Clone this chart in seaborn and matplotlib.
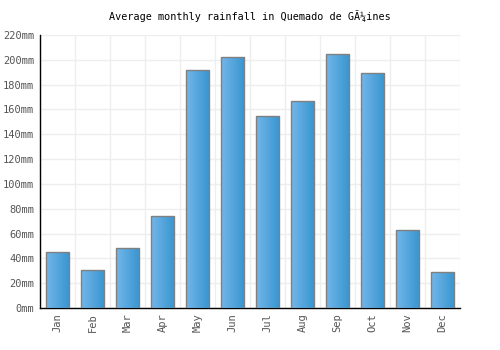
import matplotlib
matplotlib.use('Agg')
import matplotlib.pyplot as plt
import seaborn as sns
import numpy as np
import pandas as pd
from matplotlib.colors import LinearSegmentedColormap

months = ["Jan", "Feb", "Mar", "Apr", "May", "Jun", "Jul", "Aug", "Sep", "Oct", "Nov", "Dec"]
rainfall = [45, 31, 48, 74, 192, 202, 155, 167, 205, 189, 63, 29]
yticks = list(range(0, 221, 20))

df = pd.DataFrame({"month": months, "rain": rainfall})

sns.set_style("white")
plt.rcParams['font.family'] = ['DejaVu Sans Mono']

fig = plt.figure(figsize=(5, 3.5), dpi=100)
ax = fig.add_axes([0.08, 0.12, 0.84, 0.78])

sns.barplot(data=df, x="month", y="rain", color="#4a9fdb", width=0.68,
            edgecolor="#808080", linewidth=1, ax=ax, zorder=3)

ax.set_ylim(0, 220)
ax.set_xlim(-0.5, len(months) - 0.5)

# gradient fill for bars
cmap = LinearSegmentedColormap.from_list("g", ["#72b6ea", "#3895cf"])
grad = np.linspace(0, 1, 64).reshape(1, -1)
for p in ax.patches:
    x0, w, h = p.get_x(), p.get_width(), p.get_height()
    im = ax.imshow(grad, cmap=cmap, aspect="auto", extent=[x0, x0 + w, 0, h],
                   zorder=3, interpolation="bicubic")
    im.set_clip_path(p)
    p.set_facecolor("none")
    p.set_zorder(4)

ax.set_yticks(yticks)
ax.set_yticklabels([f"{v}mm" for v in yticks])
ax.set_xticks(np.arange(len(months)))
ax.set_xticklabels(months, rotation=90)
ax.set_xticks(np.arange(len(months) + 1) - 0.5, minor=True)
ax.grid(False)
ax.grid(True, which="minor", axis="x", color="#eeeeee", linewidth=1, zorder=0)
ax.grid(True, which="major", axis="y", color="#eeeeee", linewidth=1, zorder=0)
ax.tick_params(axis="both", which="both", length=0, labelsize=7.5, colors="#555555", pad=4)

ax.set_xlabel("")
ax.set_ylabel("")
for s in ["top", "right"]:
    ax.spines[s].set_visible(False)
ax.spines["left"].set_color("black")
ax.spines["bottom"].set_color("black")
ax.spines["left"].set_linewidth(1)
ax.spines["bottom"].set_linewidth(1)

ax.set_title("Average monthly rainfall in Quemado de GÃ¼ines", fontsize=7.3, color="black", pad=11)

plt.savefig("out.png", dpi=100)
plt.close()
